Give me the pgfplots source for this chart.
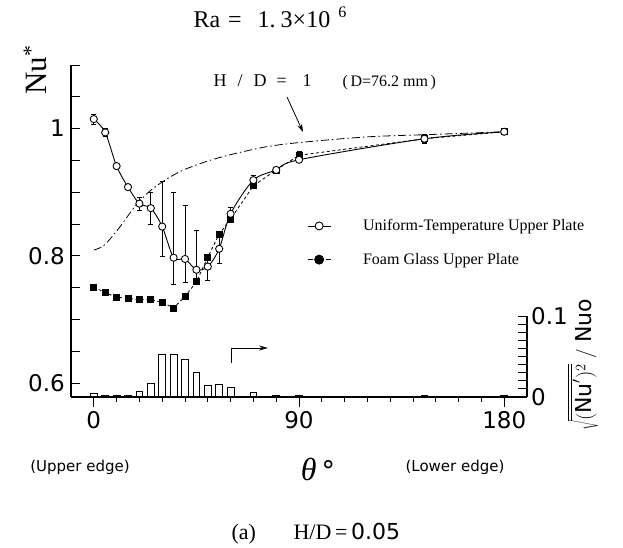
\documentclass[border=0pt]{standalone}
\usepackage{fontspec}
\setmainfont{Liberation Serif}
\newfontfamily\dejasans{DejaVu Sans}
\usepackage{pgfplots}
\pgfplotsset{compat=1.18}
\usetikzlibrary{arrows.meta}

\newcommand\ticksf{\dejasans\fontsize{23}{23}\selectfont}

\begin{document}
\begin{tikzpicture}
\useasboundingbox (-71pt,-151pt) rectangle (552pt,397pt);

% rms fluctuation bars on the right-hand axis
\begin{axis}[
  at={(0pt,0pt)}, anchor=south west,
  scale only axis, width=456pt, height=81pt,
  xmin=-10, xmax=190, ymin=0, ymax=0.1,
  axis x line=none, axis y line*=right,
  axis line style={-, line width=1.2pt},
  ytick={0,0.1}, yticklabels={0,0.1},
  minor ytick={0.01,0.02,...,0.09},
  tick align=inside, major tick length=9pt, minor tick length=9pt,
  every tick/.style={black, line width=0.9pt},
  yticklabel style={font=\ticksf, inner sep=0pt, xshift=4pt},
  ybar, bar width=3,
  clip=false,
]
\addplot[draw=black, fill=white, line width=0.8pt] coordinates {
  (0,0.005) (5,0.0015) (10,0.0015) (15,0.0015) (20,0.007) (25,0.017)
  (30,0.053) (35,0.053) (40,0.047) (45,0.030) (50,0.014) (55,0.016)
  (60,0.012) (70,0.006) (80,0.0015) (90,0.0015) (145,0.002) (180,0.0015)
};
\end{axis}

% x ticks (outside)
\begin{axis}[
  at={(0pt,0pt)}, anchor=south west,
  scale only axis, width=456pt, height=332pt,
  xmin=-10, xmax=190, ymin=0, ymax=1,
  axis x line*=bottom, axis y line=none,
  axis line style={draw=none},
  xtick={0,90,180}, xticklabels={0,90,180},
  minor xtick={10,20,30,40,50,60,70,80,100,110,120,130,140,150,160,170},
  tick align=outside, major tick length=10pt, minor tick length=5pt,
  every tick/.style={black, line width=0.9pt},
  xticklabel style={font=\ticksf, inner sep=0pt, yshift=-4pt},
]
\end{axis}

% Nu* distributions
\begin{axis}[
  at={(0pt,0pt)}, anchor=south west,
  scale only axis, width=456pt, height=332pt,
  xmin=-10, xmax=190, ymin=0.578, ymax=1.1,
  axis x line*=bottom, axis y line*=left,
  axis line style={-, line width=1.2pt},
  xtick=\empty,
  ytick={0.6,0.8,1}, yticklabels={0.6,0.8,1},
  minor ytick={0.65,0.7,0.75,0.85,0.9,0.95,1.05,1.1},
  tick align=inside, major tick length=9pt, minor tick length=9pt,
  every tick/.style={black, line width=0.9pt},
  yticklabel style={font=\ticksf, inner sep=0pt, xshift=-6pt},
  clip=false,
  legend style={at={(0.5175,0.535)}, anchor=north west, draw=none, fill=none,
    inner sep=0pt, font=\fontsize{16}{16}\selectfont, row sep=21pt,
    column sep=32pt, nodes={inner sep=0pt}, cells={anchor=west}},
  legend image code/.code={%
    \draw[mark repeat=2, mark phase=2, #1] plot coordinates {(0pt,0pt) (11.5pt,0pt) (23pt,0pt)};},
]
% H/D = 1
\addplot[black, line width=0.8pt, smooth, dash pattern=on 8pt off 3pt on 1.5pt off 3pt, forget plot] coordinates {
  (0,0.809) (4,0.815) (8,0.83) (12,0.848) (16,0.868) (20,0.886) (25,0.903)
  (30,0.916) (35,0.927) (40,0.936) (50,0.949) (60,0.959) (75,0.971)
  (90,0.978) (120,0.987) (150,0.991) (180,0.995)
};
% foam glass upper plate
\addplot[black, line width=0.8pt, dash pattern=on 3pt off 2.5pt, mark=square*, mark size=3pt,
  mark options={solid}, forget plot,
  error bars/.cd, y dir=both, y explicit,
  error bar style={solid, line width=0.7pt}, error mark options={rotate=90, mark size=2.5pt, solid}]
coordinates {
  (0,0.751) (5,0.742) (10,0.735) (15,0.733) (20,0.731) (25,0.731) (30,0.727)
  (35,0.718) (40,0.736) (45,0.759) (50,0.798) (55,0.834) (60,0.858)
  (70,0.91) (80,0.935) (90,0.958) +- (0,0.007) (145,0.984) +- (0,0.007) (180,0.995) +- (0,0.004)
};
% uniform-temperature upper plate
\addplot[black, line width=0.9pt, smooth, mark=*, mark size=3.6pt, mark options={fill=white}, forget plot,
  error bars/.cd, y dir=both, y explicit,
  error bar style={line width=0.7pt}, error mark options={rotate=90, mark size=2.5pt}]
coordinates {
  (0,1.015) +- (0,0.008)
  (5,0.994) +- (0,0.006)
  (10,0.941) +- (0,0.004)
  (15,0.908) +- (0,0.004)
  (20,0.882) +- (0,0.01)
  (25,0.875) += (0,0.025) -= (0,0.025)
  (30,0.846) += (0,0.072) -= (0,0.047)
  (35,0.797) += (0,0.103) -= (0,0.042)
  (40,0.795) += (0,0.084) -= (0,0.037)
  (45,0.778) += (0,0.062) -= (0,0.015)
  (50,0.783) += (0,0.02) -= (0,0.022)
  (55,0.811) += (0,0.02) -= (0,0.023)
  (60,0.866) +- (0,0.01)
  (70,0.919) +- (0,0.008)
  (80,0.935) +- (0,0.005)
  (90,0.951) +- (0,0.004)
  (145,0.984) +- (0,0.006)
  (180,0.995) +- (0,0.004)
};
\addlegendimage{black, line width=0.9pt, mark=*, mark size=4pt, mark options={fill=white}}
\addlegendentry{Uniform-Temperature Upper Plate}
\addlegendimage{black, line width=0.9pt, dash pattern=on 5pt off 13pt, mark=*, mark size=4.5pt, mark options={solid}}
\addlegendentry{Foam Glass Upper Plate}
\end{axis}

% labels and annotations
\node[anchor=base west, font=\fontsize{24}{24}\selectfont] at (119pt,369pt)
  {Ra\hspace{8pt}=\hspace{16pt}1.\hspace{5pt}3×10\hspace{8pt}\raisebox{10pt}{\fontsize{16}{16}\selectfont 6}};
\node[anchor=base west, rotate=90, font=\fontsize{31}{31}\selectfont] at (-24pt,299pt)
  {Nu\textsuperscript{*}};
\node[anchor=base west, font=\fontsize{18}{18}\selectfont] at (139pt,310pt)
  {H\hspace{11pt}/\hspace{11pt}D\hspace{10pt}=\hspace{16pt}1};
\node[anchor=base west, font=\fontsize{16}{16}\selectfont] at (268pt,310pt) {(\,D=76.2 mm\,)};
\draw[line width=0.8pt, -{Stealth[length=8pt, width=5pt]}] (216pt,300pt) -- (232pt,265pt);
\draw[line width=0.8pt, -{Stealth[length=9pt, width=5pt]}] (160pt,34pt) -- (160pt,49pt) -- (197pt,49pt);
\node[rotate=90, font=\fontsize{22}{22}\selectfont] at (512pt,32pt)
  {$\sqrt{\overline{(\mbox{\dejasans Nu}')^{2}}}\;/\;\mbox{\dejasans Nuo}$};
\node[font=\dejasans\fontsize{15}{15}\selectfont] at (9pt,-70pt) {(Upper edge)};
\node[font=\dejasans\fontsize{15}{15}\selectfont] at (384pt,-70pt) {(Lower edge)};
\node[anchor=base] at (247pt,-83pt)
  {{\fontsize{32}{32}\selectfont\textit{θ}}\hspace{5pt}{\dejasans\fontsize{27}{27}\selectfont °}};
\node[anchor=base west, font=\fontsize{22}{22}\selectfont] at (157pt,-142pt) {(a)};
\node[anchor=base west, font=\fontsize{22}{22}\selectfont] at (219pt,-142pt) {H/D\,=\,{\dejasans 0.05}};
\end{tikzpicture}
\end{document}
